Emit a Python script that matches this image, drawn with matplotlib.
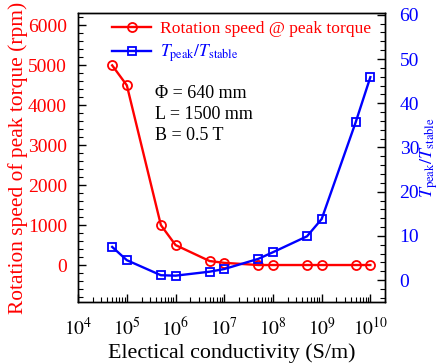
import matplotlib
matplotlib.use("Agg")
import matplotlib.pyplot as plt
from matplotlib.ticker import MultipleLocator, LogLocator, NullFormatter

plt.rcParams['font.family'] = ['Liberation Serif', 'DejaVu Serif']
plt.rcParams['mathtext.fontset'] = 'stix'

# conductivity sweep (S/m)
conductivity = [5e4, 1e5, 5e5, 1e6, 5e6, 1e7, 5e7, 1e8, 5e8, 1e9, 5e9, 1e10]
# rotation speed at peak torque (rpm)
speed_rpm = [5000, 4500, 1000, 500, 100, 55, 0, 0, 0, 0, 0, 0]
# ratio of peak torque to stable torque
torque_ratio = [7.5, 4.5, 1.1, 1.0, 1.9, 2.5, 4.8, 6.3, 9.9, 13.8, 35.7, 45.9]

x_ticks = [1e4, 1e5, 1e6, 1e7, 1e8, 1e9, 1e10]
x_labels = [r'$10^{4}$', r'$10^{5}$', r'$10^{6}$', r'$10^{7}$', r'$10^{8}$', r'$10^{9}$', r'$10^{10}$']

fig = plt.figure(figsize=(4.39, 3.64), dpi=100)
ax = fig.add_axes([0.178, 0.171, 0.699, 0.792])
ax2 = ax.twinx()

l1, = ax.plot(conductivity, speed_rpm, color='red', lw=1.7, marker='o', ms=6.5,
              mfc='none', mec='red', mew=1.3, label='Rotation speed @ peak torque')
l2, = ax2.plot(conductivity, torque_ratio, color='blue', lw=1.7, marker='s', ms=6.3,
               mfc='none', mec='blue', mew=1.3, label=r'$T_{\rm peak}/T_{\rm stable}$')

ax.set_xscale('log')
ax.set_xlim(1e4, 2e10)
ax.set_ylim(-920, 6300)
ax2.set_ylim(-4.9, 60.3)

ax.set_xticks(x_ticks)
ax.set_xticklabels(x_labels)
ax.xaxis.set_minor_locator(LogLocator(base=10, subs=range(2, 10), numticks=20))
ax.xaxis.set_minor_formatter(NullFormatter())

ax.yaxis.set_major_locator(MultipleLocator(1000))
ax.yaxis.set_minor_locator(MultipleLocator(200))
ax2.yaxis.set_major_locator(MultipleLocator(10))
ax2.yaxis.set_minor_locator(MultipleLocator(2))

for a in (ax, ax2):
    a.tick_params(which='major', direction='in', length=6, width=1)
    a.tick_params(which='minor', direction='in', length=3.5, width=0.8)
    for s in a.spines.values():
        s.set_linewidth(1.0)

ax.tick_params(axis='y', which='both', right=False, colors='black', labelcolor='red',
               labelsize=14, pad=8)
ax.tick_params(axis='x', which='both', top=False, labelsize=14, pad=11)
ax2.tick_params(axis='y', which='both', labelcolor='blue', labelsize=14, pad=10.5)

ax.set_xlabel('Electical conductivity (S/m)', fontsize=15.8, labelpad=3)
ax.set_ylabel('Rotation speed of peak torque (rpm)', fontsize=15.4, color='red', labelpad=0)
ax2.set_ylabel(r'$T_{\rm peak}/T_{\rm stable}$', fontsize=13, color='blue', labelpad=-0.5)

ax.text(3.8e5, 3760, 'Φ = 640 mm\nL = 1500 mm\nB = 0.5 T', fontsize=13,
        va='center', ha='left', linespacing=1.3)

leg = ax.legend(handles=[l1, l2], loc='upper right', frameon=False, fontsize=12.6,
                handlelength=2.2, borderaxespad=0.0, handletextpad=0.55,
                labelspacing=0.35, bbox_to_anchor=(0.979, 1.0))
for t, c in zip(leg.get_texts(), ['red', 'blue']):
    t.set_color(c)

fig.savefig('out.png', dpi=100)
